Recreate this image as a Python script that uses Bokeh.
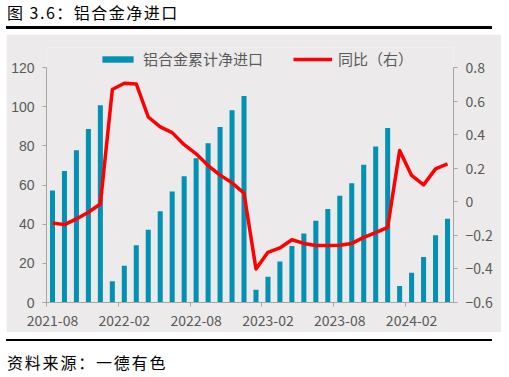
import pandas as pd
from bokeh.plotting import figure
from bokeh.layouts import column
from bokeh.models import (Range1d, LinearAxis, FixedTicker, Legend, LegendItem,
                          ColumnDataSource, Div)
from bokeh.embed import file_html
from bokeh.resources import INLINE

# ---------------- data ----------------
months = [d.strftime("%Y-%m") for d in pd.date_range("2021-08-01", "2024-05-01", freq="MS")]
cum_net_import = [57.2, 67.1, 77.8, 88.6, 100.7,
                  10.9, 18.8, 29.2, 37.2, 46.6, 56.7, 64.5, 73.7, 81.3, 89.6, 98.2, 105.5,
                  6.5, 13.1, 21.0, 28.8, 35.2, 41.8, 47.8, 54.5, 60.9, 70.3, 79.7, 89.1,
                  8.4, 15.2, 23.2, 34.3, 42.8]
yoy = [-0.126, -0.136, -0.102, -0.062, -0.013,
       0.669, 0.706, 0.702, 0.505, 0.446, 0.412, 0.340, 0.286, 0.216, 0.159, 0.113, 0.051,
       -0.401, -0.301, -0.275, -0.226, -0.248, -0.261, -0.261, -0.259, -0.248, -0.212, -0.184, -0.152,
       0.306, 0.157, 0.101, 0.196, 0.226]
tick_labels = ["2021-08", "2022-02", "2022-08", "2023-02", "2023-08", "2024-02"]
left_ticks = [0, 20, 40, 60, 80, 100, 120]
right_ticks = [-0.6, -0.4, -0.2, 0, 0.2, 0.4, 0.6, 0.8]

title_text = "图 3.6：铝合金净进口"
source_text = "资料来源：一德有色"
bar_name = "铝合金累计净进口"
line_name = "同比（右）"

# ---------------- styles ----------------
BAR_COLOR = "#0091B5"
LINE_COLOR = "#FF0000"
PANEL = "#ECEAEA"
AXIS = "#A6A6A6"
TXT = "#595959"
CJK = "Noto Sans CJK SC"

idx = list(range(len(months)))
src = ColumnDataSource(dict(x=idx, m=months, v=cum_net_import, y=yoy))

title_div = Div(
    text=(f'<div style="width:486px;height:34px;position:relative;">'
          f'<div style="position:absolute;left:1px;top:2px;font-family:\'{CJK}\';font-size:16px;'
          f'letter-spacing:1.5px;line-height:20px;color:black;white-space:nowrap;">{title_text}</div>'
          f'<div style="position:absolute;left:0;top:26px;width:486px;height:2.5px;background:black;"></div>'
          f'</div>'),
    width=503, height=34, margin=(0, 0, 0, 6))

# plot geometry: frame spans the axis area plus a strip on top for the legend
PLOT_H = 235           # px between y=0 and y=120
EXTRA = 20             # px of frame above the top tick (legend strip)
ext = EXTRA / PLOT_H
L_LO, L_HI = 0, 120
R_LO, R_HI = -0.6, 0.8

W, H = 495, 298
p = figure(width=W, height=H, output_backend="svg", toolbar_location=None,
           x_range=Range1d(-0.5, len(months) - 0.5),
           y_range=Range1d(L_LO, L_HI + (L_HI - L_LO) * ext),
           min_border_left=40, min_border_right=48, min_border_top=13, min_border_bottom=30,
           margin=(0, 0, 0, 6))
p.extra_y_ranges = {"r": Range1d(R_LO, R_HI + (R_HI - R_LO) * ext)}
p.border_fill_color = PANEL
p.background_fill_color = PANEL
p.outline_line_color = None
p.grid.visible = False
p.xaxis.visible = False
p.yaxis.visible = False

bars = p.vbar(x="x", top="v", width=0.42, source=src, color=BAR_COLOR, line_color=None)
ln = p.line(x="x", y="y", source=src, y_range_name="r", line_color=LINE_COLOR,
            line_width=3.5, line_join="round")

def style(ax):
    ax.axis_line_color = AXIS
    ax.major_tick_line_color = AXIS
    ax.minor_tick_line_color = None
    ax.major_tick_in = 0
    ax.major_tick_out = 4
    ax.major_label_text_color = TXT
    ax.major_label_text_font_size = "14px"

yl = LinearAxis(ticker=FixedTicker(ticks=left_ticks), bounds=(L_LO, L_HI))
style(yl)
yl.major_label_text_font = "Liberation Sans"
yl.major_label_standoff = 8
p.add_layout(yl, "left")

yr = LinearAxis(y_range_name="r", ticker=FixedTicker(ticks=right_ticks), bounds=(R_LO, R_HI))
style(yr)
yr.major_label_text_font = CJK
yr.major_label_standoff = 8
yr.major_label_overrides = {0: "0"}
p.add_layout(yr, "right")

major_x = [months.index(t) for t in tick_labels]
xa = LinearAxis(ticker=FixedTicker(ticks=major_x, minor_ticks=[i - 0.5 for i in major_x]))
style(xa)
xa.major_tick_out = 0
xa.major_tick_line_color = None
xa.minor_tick_line_color = AXIS
xa.minor_tick_in = 0
xa.minor_tick_out = 4
xa.major_label_text_font = CJK
xa.major_label_standoff = 8
xa.major_label_overrides = {i: t for i, t in zip(major_x, tick_labels)}
p.add_layout(xa, "below")

legend = Legend(items=[LegendItem(label=bar_name, renderers=[bars]),
                       LegendItem(label=line_name, renderers=[ln])],
                orientation="horizontal", location=(52, 233),
                background_fill_alpha=0, border_line_color=None,
                padding=0, margin=0, spacing=30, label_standoff=6,
                glyph_width=39, glyph_height=8,
                label_text_font=CJK, label_text_font_size="15px", label_text_color=TXT)
p.add_layout(legend, "center")

footer_div = Div(
    text=(f'<div style="width:486px;height:45px;position:relative;">'
          f'<div style="position:absolute;left:0;top:6.5px;width:486px;height:2px;background:black;"></div>'
          f'<div style="position:absolute;left:1px;top:20px;font-family:\'{CJK}\';font-size:16px;'
          f'letter-spacing:1.8px;line-height:20px;color:black;white-space:nowrap;">{source_text}</div>'
          f'</div>'),
    width=503, height=45, margin=(0, 0, 0, 6))

layout = column(title_div, p, footer_div, spacing=0)
open("out.html", "w").write(file_html(layout, INLINE))
